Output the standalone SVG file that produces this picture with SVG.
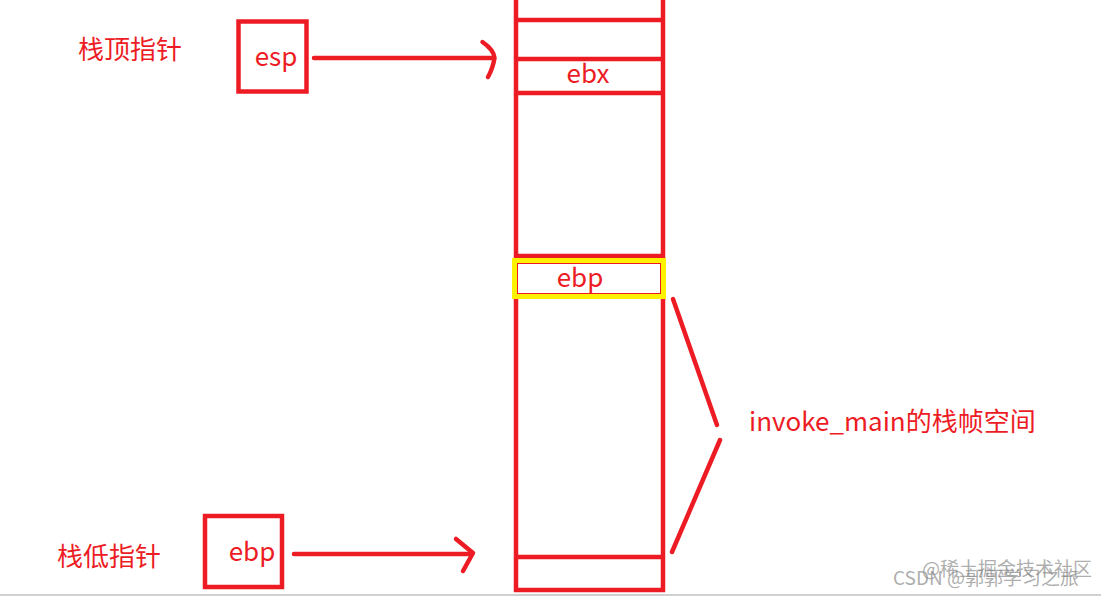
<svg xmlns="http://www.w3.org/2000/svg" width="1101" height="596" viewBox="0 0 1101 596">
<style>
.r{stroke:#ED1C24;fill:none;stroke-width:4.5;stroke-linecap:round;stroke-linejoin:round}
.s{stroke:#ED1C24;fill:none;stroke-width:4.5}
.t{fill:#ED1C24;font-family:"Noto Sans CJK SC","Noto Sans",sans-serif;font-size:26px}
.w{fill:#8a8a8a;fill-opacity:0.7;font-family:"Noto Sans CJK SC","Noto Sans",sans-serif;font-size:19px}
</style>
<rect width="1101" height="596" fill="#fff"/>
<g id="stack">
<line class="s" x1="516" y1="0" x2="516" y2="592"/>
<line class="s" x1="663" y1="0" x2="663" y2="592"/>
<line class="s" x1="514" y1="20" x2="665" y2="20"/>
<line class="s" x1="514" y1="59" x2="665" y2="59"/>
<line class="s" x1="514" y1="93" x2="665" y2="93"/>
<line class="s" x1="514" y1="256" x2="665" y2="256"/>
<line class="s" x1="514" y1="557" x2="665" y2="557"/>
<line class="s" x1="514" y1="590" x2="665" y2="590"/>
<text class="t" x="588" y="83" text-anchor="middle">ebx</text>
</g>
<g id="ebp-slot">
<rect x="514.5" y="260.5" width="149" height="36" fill="#fff" stroke="#FFF200" stroke-width="5"/>
<rect x="517.5" y="263.5" width="143" height="30" fill="none" stroke="#ED1C24" stroke-width="1"/>
<text class="t" x="580" y="287" text-anchor="middle">ebp</text>
</g>
<g id="esp-node">
<rect class="s" x="238.5" y="21.5" width="68" height="70"/>
<text class="t" x="276" y="66" text-anchor="middle">esp</text>
<text class="t" x="78" y="59">栈顶指针</text>
</g>
<g id="ebp-node">
<rect class="s" x="205" y="516" width="77" height="71"/>
<text class="t" x="252" y="561" text-anchor="middle">ebp</text>
<text class="t" x="57" y="566">栈低指针</text>
</g>
<g id="frame-label">
<text class="t" x="749" y="431">invoke_main的栈帧空间</text>
</g>
<g id="connectors">
<line class="r" x1="314" y1="58" x2="494" y2="58"/>
<path class="r" d="M482.5,42 Q494,50 494.5,58 Q493,68 488,77"/>
<line class="r" x1="294" y1="554" x2="472" y2="554"/>
<path class="r" d="M456,539 L473,553 L463,571"/>
<line class="r" x1="673" y1="299" x2="717" y2="425"/>
<line class="r" x1="720" y1="440" x2="672" y2="552"/>
</g>
<rect x="0" y="594" width="1101" height="2" fill="#d0d0d0"/>
<text class="w" x="893" y="585">CSDN @郭郭学习之旅</text>
<text class="w" x="922" y="576">@稀土掘金技术社区</text>
</svg>
